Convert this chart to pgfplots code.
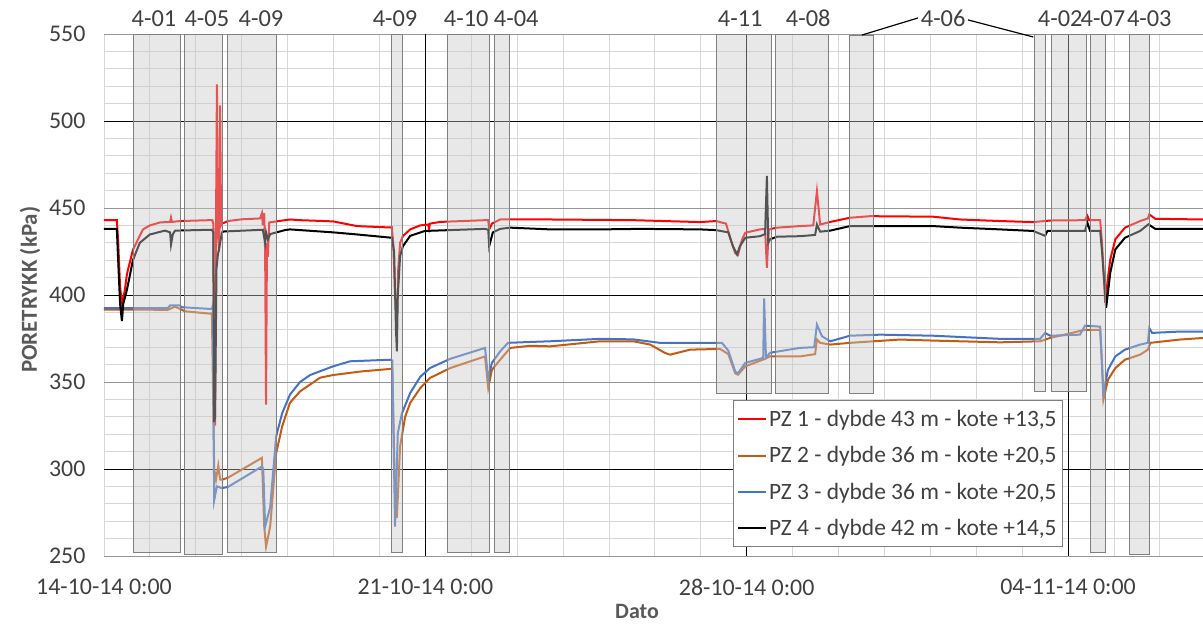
\documentclass[border=0pt]{standalone}
\usepackage{fontspec}
\setmainfont{Carlito}
\usepackage{pgfplots}
\pgfplotsset{compat=1.18}
\definecolor{pzred}{RGB}{255,0,0}
\definecolor{pzorange}{RGB}{197,90,17}
\definecolor{pzblue}{RGB}{68,114,196}
\definecolor{txt}{RGB}{64,64,64}
\definecolor{lbl}{RGB}{89,89,89}
\definecolor{minorgrid}{RGB}{215,215,215}
\definecolor{majorgrid}{RGB}{150,150,150}
\definecolor{boxfill}{RGB}{200,200,200}
\definecolor{boxedge}{RGB}{128,128,128}
\begin{document}
\begin{tikzpicture}
\begin{axis}[
  scale only axis, width=1099bp, height=522bp,
  xmin=0, xmax=23.94, ymin=250, ymax=550,
  clip mode=individual,
  xtick={0,7,14,21},
  xticklabels={14-10-14 0:00, 21-10-14 0:00, 28-10-14 0:00, 04-11-14 0:00},
  minor xtick={0,1,...,23},
  ytick={250,300,...,550},
  minor ytick={260,270,...,540},
  extra y ticks={300,400,500}, extra y tick labels={},
  extra y tick style={grid=major, major grid style={black, line width=0.9pt}},
  extra x ticks={7,14,21}, extra x tick labels={},
  extra x tick style={grid=major, major grid style={black, line width=0.9pt}},
  ymajorgrids, xminorgrids, yminorgrids,
  major grid style={majorgrid, line width=0.9pt},
  minor grid style={minorgrid, line width=0.9pt},
  major tick length=0pt, minor tick length=0pt,
  axis line style={draw=none},
  /pgf/number format/assume math mode=true,
  tick label style={font=\fontsize{24}{26}\selectfont, text=txt},
  yticklabel style={anchor=east, xshift=-15bp},
  xticklabel style={anchor=center, yshift=-31bp},
  ylabel={\textbf{PORETRYKK (kPa)}},
  ylabel style={at={(axis description cs:-0.0673,0.51)}, anchor=center, font=\fontsize{23}{25}\selectfont, text=lbl},
  xlabel={\textbf{Dato}},
  xlabel style={at={(axis description cs:0.485,-0.107)}, anchor=center, font=\fontsize{22}{24}\selectfont, text=lbl},
  legend cell align=left,
  legend style={at={(0.8726,0.2989)}, anchor=north east, draw=boxedge, line width=0.9pt, fill=white,
    font=\fontsize{23.5}{25}\selectfont, text=txt, row sep=14.5bp, inner xsep=4bp, inner ysep=8bp},
  legend image code/.code={\draw[mark repeat=2,mark phase=2,#1] plot coordinates {(0bp,0bp) (14bp,0bp) (28bp,0bp)};},
  boxst/.style={fill=boxfill, fill opacity=0.42, draw=boxedge, draw opacity=1, line width=0.9pt, forget plot},
]
% PZ 1
\addplot[pzred, line width=2bp] coordinates {
(0,443) (0.28,443) (0.31,430) (0.35,405) (0.39,395) (0.45,402) (0.50,412) (0.63,426) (0.78,434) (0.85,437.7) (1.0,440) (1.22,441.7) (1.44,442) (1.46,444.5) (1.48,442) (1.66,442.5) (2.30,443) (2.36,443)
(2.38,441) (2.40,330) (2.42,325) (2.44,440) (2.46,521) (2.48,435) (2.51,425) (2.53,509) (2.55,440) (2.57,441) (2.70,442.5) (3.0,443.5) (3.40,444) (3.44,447) (3.46,440) (3.49,447) (3.51,425) (3.53,337) (3.55,430) (3.57,422) (3.60,441.7)
(3.94,443) (4.05,443.4) (4.27,443) (4.99,442.3) (5.51,439.6) (6.23,438.8) (6.27,439) (6.30,430) (6.34,400) (6.38,385) (6.41,415) (6.45,430) (6.51,433.8) (6.67,437.7) (6.89,440) (7.06,440.5) (7.08,438) (7.10,441) (7.32,442)
(8.30,443) (8.37,443) (8.39,437.7) (8.45,441) (8.63,443.4) (8.85,443.5) (9.72,443.4) (11.53,443) (12.99,441.9) (13.33,442.5) (13.55,441) (13.65,432) (13.75,424) (13.81,423) (13.90,432) (13.97,435.8) (14.29,437.7) (14.40,438) (14.44,415.6) (14.48,437.7)
(14.66,438.7) (15.16,439.6) (15.45,440) (15.53,459.7) (15.60,440.5) (15.82,442) (16.25,444.4) (16.69,445.3) (18.06,445) (18.65,443.4) (19.52,442.5) (20.24,441.9) (20.61,442.8) (21.37,443) (21.42,445.5) (21.46,443) (21.70,443)
(21.74,430) (21.81,395.5) (21.87,410) (21.92,420.4) (22.03,432) (22.24,438.7) (22.57,442.5) (22.74,444) (22.77,446.3) (22.90,443.8) (23.94,443.4)
};
\addlegendentry{PZ 1 - dybde 43 m - kote +13,5}
% PZ 2
\addplot[pzorange, line width=2bp] coordinates {
(0,391.6) (1.39,391.5) (1.55,393.3) (1.77,390.6) (2.31,389.3) (2.35,389.5) (2.40,300) (2.44,293.8) (2.49,302) (2.53,294) (2.57,293.8) (2.70,295) (3.44,306.4) (3.49,267) (3.53,255.4) (3.62,267) (3.75,309) (3.88,324.4) (4.05,338) (4.27,344.6) (4.71,352.5) (4.99,354) (5.58,356) (6.23,357.5) (6.28,357.5)
(6.34,285) (6.38,272) (6.45,313) (6.56,330) (6.67,338) (6.89,346.5) (7.10,352.3) (7.54,358) (8.30,364.7) (8.37,346.5) (8.45,357) (8.63,362.8) (8.85,369.6) (9.28,370.8) (9.72,370.5) (10.81,373.4) (11.53,373.4) (11.90,371.5) (12.22,366.7) (12.33,365.7) (12.77,368.6) (13.42,369)
(13.60,366) (13.75,355) (13.81,354.2) (13.97,359) (14.40,363.3) (14.51,364.8) (15.16,364.7) (15.49,366) (15.53,374.4) (15.60,372.5) (15.82,371.5) (16.25,372.5) (17.34,374.4) (18.06,373.8) (19.52,372.8) (20.39,373.4) (20.61,375.3) (21.37,380) (21.70,380)
(21.74,360) (21.77,339.8) (21.87,351.3) (22.03,358) (22.24,362.8) (22.57,365.7) (22.74,368.6) (22.79,372.5) (23.44,374.4) (23.94,375.3)
};
\addlegendentry{PZ 2 - dybde 36 m - kote +20,5}
% PZ 3
\addplot[pzblue, line width=2bp] coordinates {
(0,392.5) (1.39,392.5) (1.44,394) (1.66,394) (1.68,393) (2.31,392) (2.35,392) (2.37,394) (2.40,282) (2.46,290) (2.57,289) (2.70,289.7) (3.44,301.4) (3.47,300) (3.51,267) (3.62,278) (3.75,318.7) (3.88,332) (4.05,342.7) (4.27,350) (4.49,354) (4.99,359) (5.36,361.9) (6.23,362.8) (6.28,362.4)
(6.34,266.9) (6.40,320.7) (6.49,332) (6.67,343.7) (6.89,353) (7.10,358) (7.54,363.3) (8.30,369.6) (8.37,352) (8.45,361) (8.63,367.6) (8.80,372.5) (9.28,373) (9.72,373.4) (10.81,374.8) (11.53,374.5) (12.11,372.5) (13.33,372.5) (13.46,372.5)
(13.60,368) (13.75,356) (13.81,355) (13.97,361) (14.29,363.3) (14.36,364) (14.38,398) (14.42,364) (14.51,366.8) (15.16,369.6) (15.47,370) (15.53,383) (15.64,376.3) (15.82,373.4) (16.25,376.6) (16.91,377.2) (18.06,376.6) (19.52,374.8) (20.39,374.8) (20.50,378.2) (20.61,376.6) (21.26,377.2) (21.37,382.4) (21.70,381.8)
(21.74,360) (21.77,343.7) (21.87,357) (22.03,364.7) (22.24,368.6) (22.57,371.5) (22.74,372.5) (22.77,381) (22.83,378.2) (23.44,379) (23.94,379)
};
\addlegendentry{PZ 3 - dybde 36 m - kote +20,5}
% PZ 4
\addplot[black, line width=2bp] coordinates {
(0,438) (0.28,438) (0.30,425) (0.35,395) (0.39,385) (0.42,395) (0.50,403) (0.63,420) (0.78,430) (1.0,434.8) (1.33,437) (1.44,436) (1.46,429) (1.50,435) (1.55,437) (2.35,437.5) (2.38,436) (2.40,327) (2.42,330) (2.45,415) (2.48,423) (2.53,430) (2.57,436) (2.61,436.5)
(3.46,437.5) (3.49,433) (3.51,430) (3.53,436) (3.57,432) (3.62,435) (3.94,437.3) (4.05,437.7) (4.99,436) (5.51,434.8) (6.23,433) (6.27,433) (6.32,425) (6.36,380) (6.38,367.6) (6.40,400) (6.45,422.3) (6.51,428) (6.67,434) (6.99,436.8)
(8.30,438) (8.37,437.5) (8.39,428) (8.47,436) (8.63,438) (8.85,438.7) (9.72,437.7) (10.81,437.7) (11.68,438) (12.99,437.7) (13.33,437.3) (13.60,436) (13.70,428) (13.79,423.3) (13.85,428) (13.97,432.9) (14.29,433.8) (14.40,435) (14.44,468.4) (14.47,430) (14.51,432)
(14.66,433.5) (15.16,433.8) (15.49,434.5) (15.53,440.5) (15.60,436.4) (15.82,437) (16.25,439.6) (18.06,439.6) (18.65,438.7) (19.52,437.7) (20.24,436.8) (20.50,434) (20.55,436.8) (21.37,436.8) (21.42,441.7) (21.48,436.8) (21.70,436.8)
(21.74,425) (21.83,392.6) (21.92,412.8) (22.03,426.2) (22.24,432.9) (22.57,436.8) (22.75,440.6) (22.90,438) (23.94,438)
};
\addlegendentry{PZ 4 - dybde 42 m - kote +14,5}
% boreholes (shaded periods)
\addplot[boxst] coordinates {(0.632,252) (0.632,550) (1.656,550) (1.656,252)} -- cycle;
\addplot[boxst] coordinates {(1.743,251) (1.743,550) (2.571,550) (2.571,251)} -- cycle;
\addplot[boxst] coordinates {(2.680,252) (2.680,550) (3.747,550) (3.747,252)} -- cycle;
\addplot[boxst] coordinates {(6.253,252) (6.253,550) (6.492,550) (6.492,252)} -- cycle;
\addplot[boxst] coordinates {(7.473,252) (7.473,550) (8.388,550) (8.388,252)} -- cycle;
\addplot[boxst] coordinates {(8.497,252) (8.497,550) (8.824,550) (8.824,252)} -- cycle;
\addplot[boxst] coordinates {(13.333,343.7) (13.333,550) (14.532,550) (14.532,343.7)} -- cycle;
\addplot[boxst] coordinates {(14.619,343.7) (14.619,550) (15.773,550) (15.773,343.7)} -- cycle;
\addplot[boxst] coordinates {(16.231,343.7) (16.231,549) (16.754,549) (16.754,343.7)} -- cycle;
\addplot[boxst] coordinates {(20.261,344.8) (20.261,550) (20.501,550) (20.501,344.8)} -- cycle;
\addplot[boxst] coordinates {(20.632,344.8) (20.632,550) (21.394,550) (21.394,344.8)} -- cycle;
\addplot[boxst] coordinates {(21.481,252) (21.481,550) (21.808,550) (21.808,252)} -- cycle;
\addplot[boxst] coordinates {(22.331,251) (22.331,550) (22.767,550) (22.767,251)} -- cycle;
% labels
\begin{scope}[every node/.style={font=\fontsize{24.5}{26}\selectfont, text=txt, inner sep=0pt}]
\node at (axis cs:1.09,559) {4-01};
\node at (axis cs:2.24,559) {4-05};
\node at (axis cs:3.42,559) {4-09};
\node at (axis cs:6.34,559) {4-09};
\node at (axis cs:7.89,559) {4-10};
\node at (axis cs:8.98,559) {4-04};
\node at (axis cs:13.86,559) {4-11};
\node at (axis cs:15.34,559) {4-08};
\node at (axis cs:18.28,559) {4-06};
\node at (axis cs:20.83,559) {4-02};
\node at (axis cs:21.76,559) {4-07};
\node at (axis cs:22.77,559) {4-03};
\end{scope}
\draw[black, line width=1.2pt] (axis cs:16.51,549.4) -- (axis cs:17.73,559.2);
\draw[black, line width=1.2pt] (axis cs:18.82,558.1) -- (axis cs:20.24,548.3);
\coordinate (sw) at (rel axis cs:0,0);
\coordinate (ne) at (rel axis cs:1,1);
\end{axis}
\pgfresetboundingbox
\path[use as bounding box] ([shift={(-104bp,-69bp)}]sw) rectangle ([shift={(0bp,34bp)}]ne);
\end{tikzpicture}
\end{document}
